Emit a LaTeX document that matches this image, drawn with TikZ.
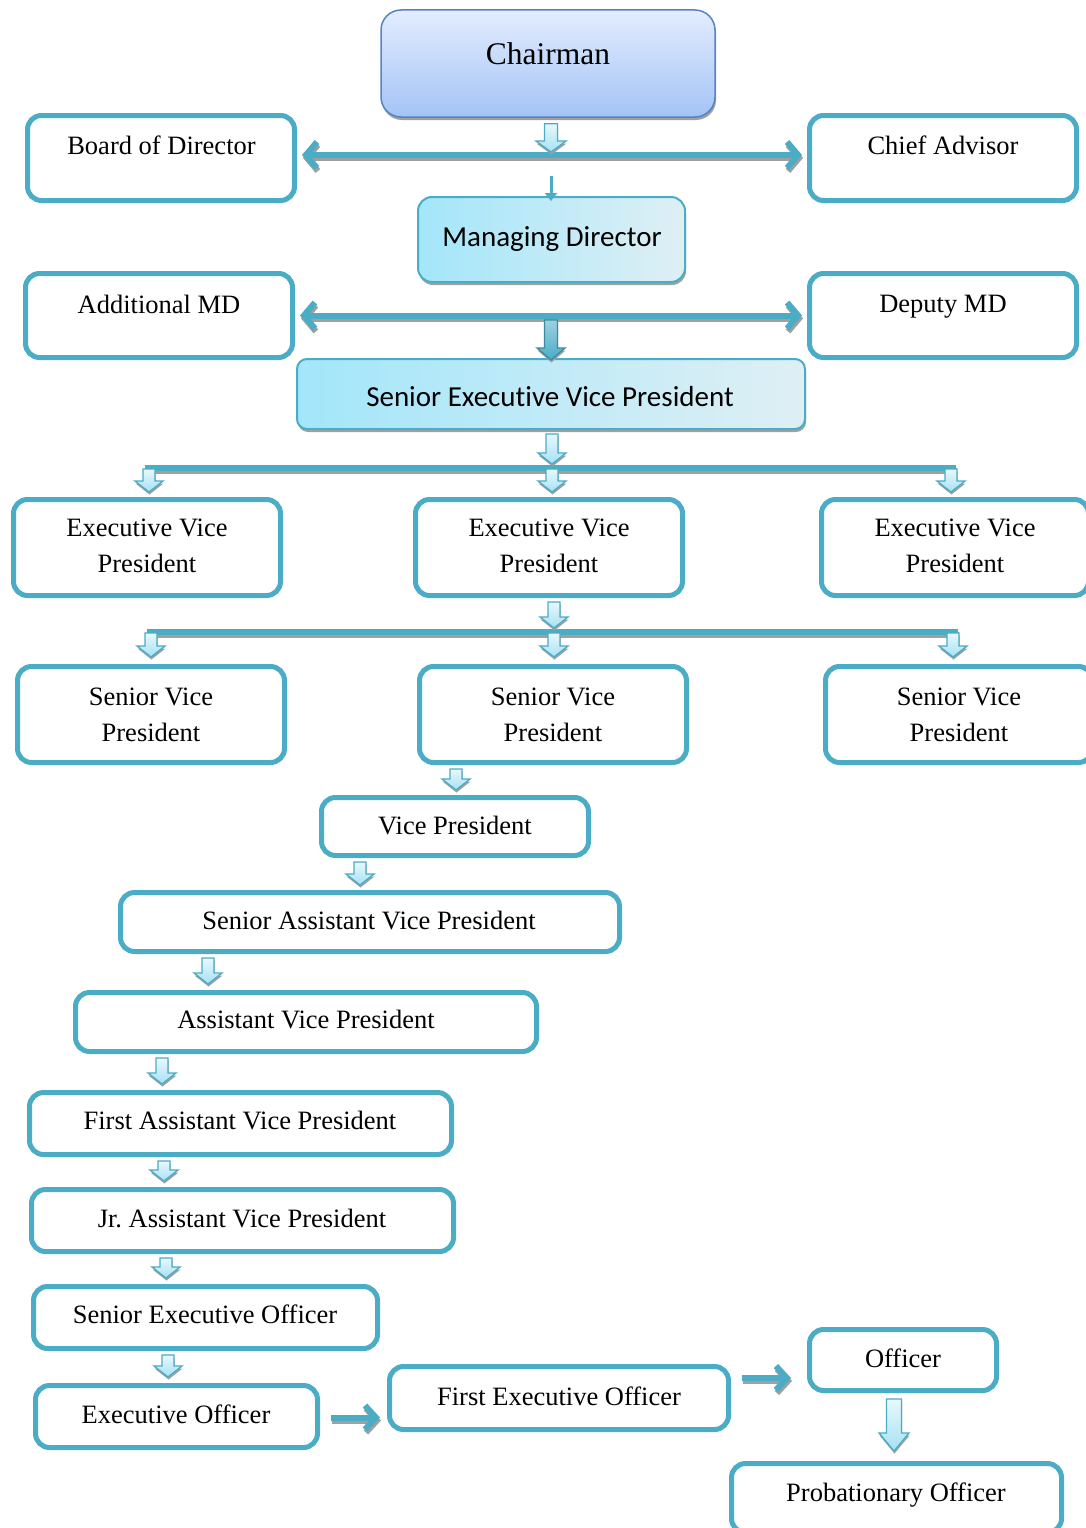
\documentclass[tikz,border=0pt]{standalone}
\usepackage{fontspec}
\setmainfont{Liberation Serif}
\newfontfamily\calib[RawFeature={-liga;-clig;-calt;-dlig}]{Carlito}
\usetikzlibrary{arrows.meta,shadows,calc}
\definecolor{aqua}{HTML}{4BACC6}
\definecolor{chtop}{HTML}{E3EDFE}
\definecolor{chbot}{HTML}{A3C3F6}
\definecolor{chborder}{HTML}{5683C2}
\definecolor{mdleft}{HTML}{A3E6FA}
\definecolor{mdright}{HTML}{DFEFF4}
\definecolor{artop}{HTML}{E8F8FD}
\definecolor{arbot}{HTML}{A6E1F3}
\definecolor{shadowg}{HTML}{A0A0A0}
\frenchspacing
\tikzset{
  gshadow/.style={drop shadow={shadow xshift=1pt,shadow yshift=-3pt,fill=shadowg,opacity=1}},
  wbox/.style={draw=aqua,line width=5pt,rounded corners=14pt,fill=white,inner sep=0pt},
  chbox/.style={draw=chborder,line width=1.5pt,rounded corners=20pt,top color=chtop,bottom color=chbot,gshadow,inner sep=0pt},
  mdbox/.style={draw=aqua,line width=2pt,rounded corners=14pt,left color=mdleft,right color=mdright,gshadow,inner sep=0pt},
  tx/.style={font=\fontsize{26.5}{36}\selectfont,anchor=base,inner sep=0pt},
  txtwo/.style={font=\fontsize{26.5}{36}\selectfont,align=center,anchor=center,inner sep=0pt},
  chtx/.style={font=\fontsize{31.5}{38}\selectfont,anchor=base,inner sep=0pt},
  mdtx/.style={font=\calib\fontsize{29}{35}\selectfont,anchor=base,inner sep=0pt},
  blk/.style={draw=aqua,line width=1.3pt,top color=artop,bottom color=arbot,line join=miter,
    drop shadow={shadow xshift=0.5pt,shadow yshift=-2.5pt,fill=shadowg,opacity=1}},
  blkdark/.style={draw=aqua!80!black,line width=1.3pt,top color=aqua!55,bottom color=aqua,line join=miter,
    drop shadow={shadow xshift=0.5pt,shadow yshift=-2.5pt,fill=shadowg,opacity=1}},
  dblarr/.style={line width=6pt,draw=aqua,{Straight Barb[length=11pt,width=26pt]}-{Straight Barb[length=11pt,width=26pt]}},
  onearr/.style={line width=6pt,draw=aqua,-{Straight Barb[length=11pt,width=24pt]}},
  barline/.style={line width=6pt,draw=aqua},
  thinarr/.style={line width=3pt,draw=aqua,-{Triangle[length=8pt,width=12pt]}}
}
% shadowed line connector: style, from, to
\newcommand{\shline}[3]{%
  \draw[#1,draw=shadowg,transform canvas={xshift=1pt,yshift=-3pt}] #2 -- #3;
  \draw[#1] #2 -- #3;}
% block down arrow: x, upper ref, lower ref, start offset, tip offset, half body, half head, head length, style
\newcommand{\blkdown}[9]{%
  \path (#1,0 |- #2) ++(0,#4) coordinate (bdA);
  \path (#1,0 |- #3) ++(0,#5) coordinate (bdB);
  \draw[#9] let \p1=(bdA), \p2=(bdB) in
    ({\x1-#6pt},\y1) -- ({\x1+#6pt},\y1) -- ({\x1+#6pt},{\y2+#8pt}) -- ({\x1+#7pt},{\y2+#8pt})
    -- (\x2,\y2) -- ({\x1-#7pt},{\y2+#8pt}) -- ({\x1-#6pt},{\y2+#8pt}) -- cycle;}
\begin{document}
\begin{tikzpicture}[x=1pt,y=-1pt]
\useasboundingbox (0,0) rectangle (1085,1528);
\fill[white] (0,0) rectangle (1085,1528);

% boxes
\node[chbox,minimum width=334pt,minimum height=107pt] (chair) at (548,63.5) {};
\node[wbox,minimum width=267pt,minimum height=85pt] (bod) at (161,158) {};
\node[wbox,minimum width=267pt,minimum height=85pt] (ca) at (943,158) {};
\node[mdbox,minimum width=267pt,minimum height=85pt] (md) at (551.5,239.5) {};
\node[wbox,minimum width=267pt,minimum height=84pt] (amd) at (159,315.5) {};
\node[wbox,minimum width=267pt,minimum height=84pt] (dmd) at (943,315.5) {};
\node[mdbox,rounded corners=10pt,minimum width=508pt,minimum height=70pt] (sevp) at (551,394) {};
\node[wbox,minimum width=267pt,minimum height=96pt] (evp1) at (147,547.5) {};
\node[wbox,minimum width=267pt,minimum height=96pt] (evp2) at (549,547.5) {};
\node[wbox,minimum width=267pt,minimum height=96pt] (evp3) at (955,547.5) {};
\node[wbox,minimum width=267pt,minimum height=96pt] (svp1) at (151,714.5) {};
\node[wbox,minimum width=267pt,minimum height=96pt] (svp2) at (553,714.5) {};
\node[wbox,minimum width=267pt,minimum height=96pt] (svp3) at (959,714.5) {};
\node[wbox,minimum width=267pt,minimum height=58pt] (vp) at (455,826.5) {};
\node[wbox,minimum width=499pt,minimum height=59pt] (savp) at (370,922) {};
\node[wbox,minimum width=461pt,minimum height=59pt] (avp) at (306,1022) {};
\node[wbox,minimum width=422pt,minimum height=62pt] (favp) at (240.5,1123.5) {};
\node[wbox,minimum width=422pt,minimum height=62pt] (javp) at (242.5,1220.5) {};
\node[wbox,minimum width=344pt,minimum height=62pt] (seo) at (205.5,1317.5) {};
\node[wbox,minimum width=282pt,minimum height=62pt] (eo) at (176.5,1416.5) {};
\node[wbox,minimum width=339pt,minimum height=63pt] (feo) at (559,1398) {};
\node[wbox,minimum width=187pt,minimum height=61pt] (off) at (903,1360) {};
\node[wbox,minimum width=330pt,minimum height=69pt] (prob) at (896.5,1498) {};

% texts
\node[chtx] (tchair) at (548,65) {Chairman};
\node[tx] (tbod) at (161.5,154) {Board of Director};
\node[tx] (tca) at (943,154) {Chief Advisor};
\node[mdtx] (tmd) at (552,246) {Managing Director};
\node[tx] (tamd) at (159,313) {Additional MD};
\node[tx] (tdmd) at (943,312) {Deputy MD};
\node[mdtx] (tsevp) at (550,406) {Senior Executive Vice President};
\node[txtwo] (tevp1) at (147,546) {Executive Vice\\President};
\node[txtwo] (tevp2) at (549,546) {Executive Vice\\President};
\node[txtwo] (tevp3) at (955,546) {Executive Vice\\President};
\node[txtwo] (tsvp1) at (151,714.5) {Senior Vice\\President};
\node[txtwo] (tsvp2) at (553,714.5) {Senior Vice\\President};
\node[txtwo] (tsvp3) at (959,714.5) {Senior Vice\\President};
\node[tx] (tvp) at (455,834) {Vice President};
\node[tx] (tsavp) at (369,929) {Senior Assistant Vice President};
\node[tx] (tavp) at (306,1028) {Assistant Vice President};
\node[tx] (tfavp) at (240,1129) {First Assistant Vice President};
\node[tx] (tjavp) at (242,1227) {Jr. Assistant Vice President};
\node[tx] (tseo) at (205,1323) {Senior Executive Officer};
\node[tx] (teo) at (176,1423) {Executive Officer};
\node[tx] (tfeo) at (559,1405) {First Executive Officer};
\node[tx] (toff) at (903,1367) {Officer};
\node[tx] (tprob) at (896,1501) {Probationary Officer};

% junction coordinates
\coordinate (j1) at (551,155);
\coordinate (j2) at (551,316);
\coordinate (j3) at (552,468);
\coordinate (b3a) at (149,468);
\coordinate (b3c) at (951,468);
\coordinate (j4) at (554,632);
\coordinate (b4a) at (151,632);
\coordinate (b4c) at (953,632);

% horizontal connectors
\shline{dblarr}{([xshift=5pt,yshift=3pt]bod.east)}{([xshift=-5pt,yshift=3pt]ca.west)}
\shline{dblarr}{([xshift=5pt]amd.east)}{([xshift=-5pt]dmd.west)}
\shline{barline}{($(b3a)+(-4,0)$)}{($(b3c)+(5,0)$)}
\shline{barline}{($(b4a)+(-4,0)$)}{($(b4c)+(5,0)$)}
\shline{onearr}{($(eo.east)+(11,1)$)}{($(feo.west |- eo.east)+(-7,1)$)}
\shline{onearr}{($(feo.east)+(11,-20)$)}{($(off.west |- feo.east)+(-16,-20)$)}

% down arrows
\blkdown{551}{chair.south}{j1}{6}{-3}{6.5}{15}{11}{blk}
\draw[thinarr] ($(j1)+(0,21)$) -- ($(j1 |- md.north)+(0,5)$);
\blkdown{551}{j2}{sevp.north}{4}{2}{6.5}{14}{12}{blkdark}
\blkdown{552}{sevp.south}{j3}{4}{-4}{6}{14}{11}{blk}
\blkdown{149}{b3a}{evp1.north}{1}{-5}{6}{14}{11}{blk}
\blkdown{552}{j3}{evp2.north}{1}{-5}{6}{14}{11}{blk}
\blkdown{951}{b3c}{evp3.north}{1}{-5}{6}{14}{11}{blk}
\blkdown{554}{evp2.south}{j4}{4}{-4}{6}{14}{11}{blk}
\blkdown{151}{b4a}{svp1.north}{1}{-7}{6}{14}{11}{blk}
\blkdown{554}{j4}{svp2.north}{1}{-7}{6}{14}{11}{blk}
\blkdown{953}{b4c}{svp3.north}{1}{-7}{6}{14}{11}{blk}
\blkdown{456}{svp2.south}{vp.north}{4}{-5}{6}{14}{11}{blk}
\blkdown{360}{vp.south}{savp.north}{4}{-5}{6}{14}{11}{blk}
\blkdown{208}{savp.south}{avp.north}{4}{-6}{6}{14}{11}{blk}
\blkdown{162}{avp.south}{favp.north}{4}{-6}{6}{14}{11}{blk}
\blkdown{164}{favp.south}{javp.north}{4}{-6}{6}{14}{11}{blk}
\blkdown{166}{javp.south}{seo.north}{4}{-6}{6}{14}{11}{blk}
\blkdown{168}{seo.south}{eo.north}{4}{-6}{6}{14}{11}{blk}
\blkdown{894}{off.south}{prob.north}{6}{-10}{7.5}{15}{18}{blk}
\end{tikzpicture}
\end{document}
